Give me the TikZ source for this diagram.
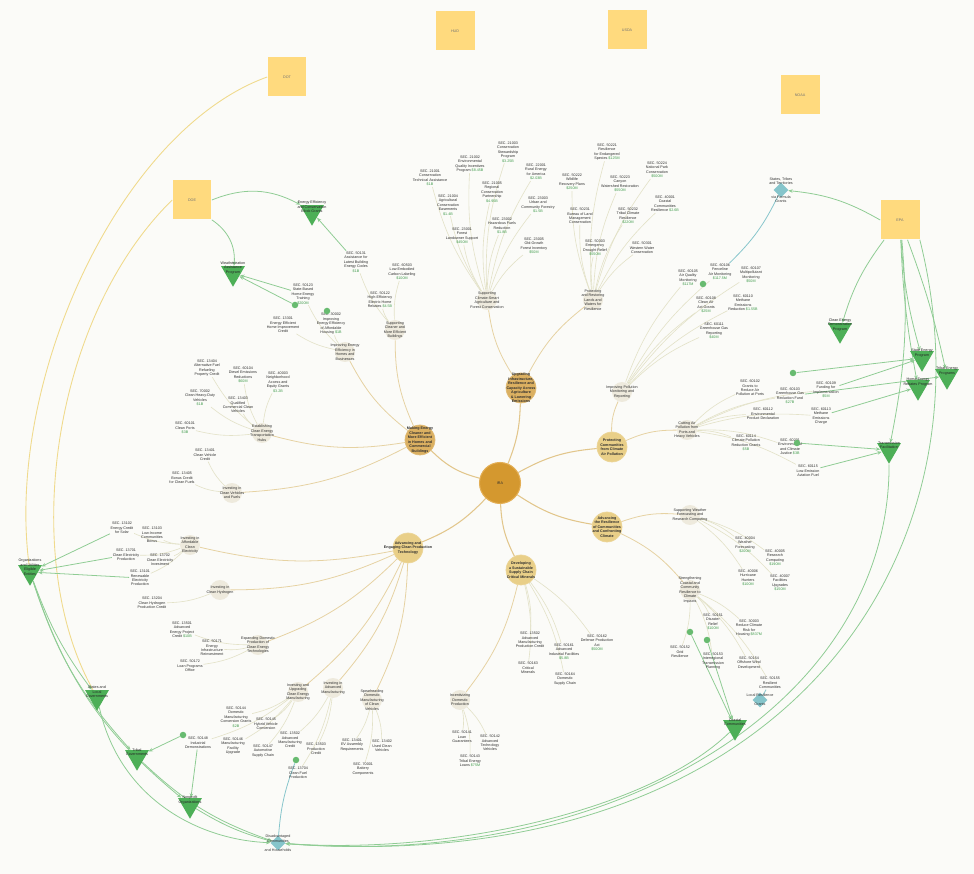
\documentclass[tikz,border=0pt]{standalone}
\usepackage{fontspec}
\setmainfont{Liberation Sans}
\usepackage{xcolor}
\usepackage{tikz}
\usetikzlibrary{shapes.geometric, arrows.meta, backgrounds, positioning}

\definecolor{bgcol}{HTML}{FBFBF8}
\definecolor{hubfill}{HTML}{D4982F}
\definecolor{hubedge}{HTML}{E3AE55}
\definecolor{topicdark}{HTML}{DBB061}
\definecolor{topiclight}{HTML}{E9CF88}
\definecolor{subfill}{HTML}{EEEADD}
\definecolor{sqfill}{HTML}{FFDA7E}
\definecolor{trifill}{HTML}{4DAF57}
\definecolor{dmfill}{HTML}{86C5CB}
\definecolor{greenline}{HTML}{8FCC94}
\definecolor{tanline}{HTML}{E6D2A2}
\definecolor{paleline}{HTML}{E3E2C8}
\definecolor{yarccol}{HTML}{F0DA8C}
\definecolor{leafgreen}{HTML}{3E9A4A}
\definecolor{inkgrey}{HTML}{2E2E2E}

\newcommand{\tinyfont}{\fontsize{2.1}{2.55}\selectfont}
\newcommand{\amt}[1]{\textcolor{leafgreen}{#1}}

\tikzset{
  hubnode/.style={circle, fill=hubfill, draw=hubedge, line width=0.6pt, minimum size=0.82cm, inner sep=0pt, font=\tinyfont, text=inkgrey},
  topic/.style={circle, fill=#1, draw=#1!85!white, line width=0.4pt, minimum size=0.6cm, inner sep=0pt},
  topictext/.style={font={\tinyfont\bfseries}, align=center, text=inkgrey, inner sep=0pt},
  subnode/.style={circle, fill=subfill, minimum size=0.4cm, inner sep=0pt},
  subtext/.style={font=\tinyfont, align=center, text=inkgrey, inner sep=0pt},
  leaf/.style={font=\tinyfont, align=center, text=inkgrey, inner sep=0.3pt},
  gdot/.style={circle, fill=trifill!85, minimum size=0.13cm, inner sep=0pt},
  sqnode/.style={rectangle, fill=sqfill, minimum size=0.78cm, inner sep=0pt, font=\tinyfont, text=black!55},
  trinode/.style={regular polygon, regular polygon sides=3, shape border rotate=180, fill=trifill, minimum size=0.55cm, inner sep=0pt},
  tritext/.style={font=\tinyfont, align=center, text=black!85, yshift=0.1cm},
  dmnode/.style={diamond, fill=dmfill, minimum size=0.3cm, inner sep=0pt},
  dmtext/.style={font=\tinyfont, align=center, text=black!80},
  hubline/.style={draw=tanline!80!hubfill, line width=0.6pt},
  subline/.style={draw=tanline, line width=0.45pt},
  leafline/.style={draw=paleline, line width=0.35pt},
  gline/.style={draw=greenline, line width=0.45pt, -{Stealth[length=2.5pt,width=2pt]}},
  yarc/.style={draw=yarccol, line width=0.5pt},
  tline/.style={draw=dmfill, line width=0.45pt}
}

\begin{document}
\begin{tikzpicture}[x=0.02cm, y=-0.02cm]
\useasboundingbox (0,0) rectangle (974,874);
\begin{scope}[on background layer]
  \fill[bgcol] (0,0) rectangle (974,874);
\end{scope}

% agencies
\foreach \n/\x/\y/\t in {sqa/287/77/DOT, sqb/455/31/HUD, sqc/627/30/USDA, sqd/800/95/NOAA, sqe/192/200/DOE, sqf/900/220/EPA}
  \node[sqnode] (\n) at (\x,\y) {\t};

% hub and topics
\node[hubnode] (ira) at (500,483) {IRA};
\node[topic=topicdark, label={[topictext]center:{Making Energy\\Cleaner and\\More Efficient\\in Homes and\\Commercial\\Buildings}}] (t1) at (420,440) {};
\node[topic=topicdark, label={[topictext]center:{Upgrading\\Infrastructure,\\Resilience and\\Capacity Across\\Agriculture\\\& Lowering\\Emissions}}] (t2) at (521,388) {};
\node[topic=topiclight, label={[topictext]center:{Protecting\\Communities\\from Climate\\Air Pollution}}] (t3) at (612,447) {};
\node[topic=topiclight, label={[topictext]center:{Advancing\\the Resilience\\of Communities\\and Confronting\\Climate}}] (t4) at (607,527) {};
\node[topic=topiclight, label={[topictext]center:{Developing\\a Sustainable\\Supply Chain\\Critical Minerals}}] (t5) at (521,570) {};
\node[topic=topiclight, label={[topictext]center:{Advancing and\\Engaging Clean Production\\Technology}}] (t6) at (408,548) {};

\begin{scope}[on background layer]
  \draw[hubline] (ira) to[bend left=15] (t1);
  \draw[hubline] (ira) to[bend right=10] (t2);
  \draw[hubline] (ira) to[bend left=12] (t3);
  \draw[hubline] (ira) to[bend right=12] (t4);
  \draw[hubline] (ira) to[bend right=12] (t5);
  \draw[hubline] (ira) to[bend left=12] (t6);
\end{scope}

% subtopics
\foreach \n/\p/\x/\y/\t in {
  s1/t1/395/330/{Supporting\\Cleaner and\\More Efficient\\Buildings},
  s2/t1/345/352/{Improving Energy\\Efficiency in\\Homes and\\Businesses},
  s3/t1/262/433/{Establishing\\Clean Energy\\Transportation\\Hubs},
  s4/t1/232/493/{Investing in\\Clean Vehicles\\and Fuels},
  s5/t2/487/300/{Supporting\\Climate-Smart\\Agriculture and\\Forest Conservation},
  s6/t2/593/300/{Protecting\\and Restoring\\Lands and\\Waters for\\Resilience},
  s7/t3/622/392/{Improving Pollution\\Monitoring and\\Reporting},
  s8/t3/687/430/{Cutting Air\\Pollution from\\Ports and\\Heavy Vehicles},
  s9/t4/690/515/{Supporting Weather\\Forecasting and\\Research Computing},
  s10/t4/690/590/{Strengthening\\Coastal and\\Community\\Resilience to\\Climate\\Impacts},
  s11/t5/460/700/{Incentivizing\\Domestic\\Production},
  s12/t6/190/545/{Investing in\\Affordable\\Clean\\Electricity},
  s13/t6/220/590/{Investing in\\Clean Hydrogen},
  s14/t6/258/645/{Expanding Domestic\\Production of\\Clean Energy\\Technologies},
  s15/t6/298/692/{Investing and\\Upgrading\\Clean Energy\\Manufacturing},
  s16/t6/333/688/{Investing in\\Advanced\\Manufacturing},
  s17/t6/372/700/{Spearheading\\Domestic\\Manufacturing\\of Clean\\Vehicles}} {
  \node[subnode, label={[subtext]center:{\t}}] (\n) at (\x,\y) {};
  \begin{scope}[on background layer]
    \draw[subline] (\p) to[bend left=12] (\n);
  \end{scope}
}

% programs
\foreach \n/\p/\x/\y/\t in {
  la/s1/356/262/{SEC. 50131\\Assistance for\\Latest Building\\Energy Codes\\\amt{\$1B}},
  lb/s1/402/272/{SEC. 60503\\Low-Embodied\\Carbon Labeling\\\amt{\$100M}},
  lc/s1/380/300/{SEC. 50122\\High-Efficiency\\Electric Home\\Rebates \amt{\$4.5B}},
  ld/s2/303/294/{SEC. 50123\\State-Based\\Home Energy\\Training\\\amt{\$200M}},
  le/s2/331/324/{SEC. 30002\\Improving\\Energy Efficiency\\of Affordable\\Housing \amt{\$1B}},
  lf/s2/283/325/{SEC. 13301\\Energy Efficient\\Home Improvement\\Credit},
  lg/s3/207/368/{SEC. 13404\\Alternative Fuel\\Refueling\\Property Credit},
  lh/s3/243/375/{SEC. 60104\\Diesel Emissions\\Reductions\\\amt{\$60M}},
  li/s3/278/382/{SEC. 40003\\Neighborhood\\Access and\\Equity Grants\\\amt{\$3.2B}},
  lj/s3/200/398/{SEC. 70002\\Clean Heavy-Duty\\Vehicles\\\amt{\$1B}},
  lk/s3/238/405/{SEC. 13403\\Qualified\\Commercial Clean\\Vehicles},
  ll/s3/185/428/{SEC. 60101\\Clean Ports\\\amt{\$3B}},
  lm/s4/205/455/{SEC. 13401\\Clean Vehicle\\Credit},
  ln/s4/182/478/{SEC. 13405\\Bonus Credit\\for Clean Fuels},
  lo/s5/430/178/{SEC. 21001\\Conservation\\Technical Assistance\\\amt{\$1B}},
  lp/s5/470/164/{SEC. 21002\\Environmental\\Quality Incentives\\Program \amt{\$8.45B}},
  lq/s5/508/152/{SEC. 21003\\Conservation\\Stewardship\\Program\\\amt{\$3.25B}},
  lr/s5/448/205/{SEC. 21004\\Agricultural\\Conservation\\Easements\\\amt{\$1.4B}},
  ls/s5/492/192/{SEC. 21005\\Regional\\Conservation\\Partnership\\\amt{\$4.95B}},
  lt/s5/536/172/{SEC. 22001\\Rural Energy\\for America\\\amt{\$2.03B}},
  lu/s5/462/236/{SEC. 23001\\Forest\\Landowner Support\\\amt{\$450M}},
  lv/s5/502/226/{SEC. 23002\\Hazardous Fuels\\Reduction\\\amt{\$1.8B}},
  lw/s5/538/205/{SEC. 23003\\Urban and\\Community Forestry\\\amt{\$1.5B}},
  lx/s5/534/246/{SEC. 23005\\Old-Growth\\Forest Inventory\\\amt{\$50M}},
  ly/s6/607/152/{SEC. 50221\\Resilience\\for Endangered\\Species \amt{\$125M}},
  lz/s6/572/182/{SEC. 50222\\Wildlife\\Recovery Plans\\\amt{\$250M}},
  ma/s6/620/184/{SEC. 50223\\Canyon\\Watershed Restoration\\\amt{\$550M}},
  mb/s6/657/170/{SEC. 50224\\National Park\\Conservation\\\amt{\$500M}},
  mc/s6/580/216/{SEC. 50231\\Bureau of Land\\Management\\Conservation},
  md/s6/628/216/{SEC. 50232\\Tribal Climate\\Resilience\\\amt{\$220M}},
  me/s6/665/204/{SEC. 40001\\Coastal\\Communities\\Resilience \amt{\$2.6B}},
  mf/s6/595/248/{SEC. 50303\\Emergency\\Drought Relief\\\amt{\$550M}},
  mg/s6/642/248/{SEC. 50301\\Western Water\\Conservation},
  mh/s7/688/278/{SEC. 60105\\Air Quality\\Monitoring\\\amt{\$117M}},
  mi/s7/720/272/{SEC. 60106\\Fenceline\\Air Monitoring\\\amt{\$117.5M}},
  mj/s7/751/275/{SEC. 60107\\Multipollutant\\Monitoring\\\amt{\$50M}},
  mk/s7/706/305/{SEC. 60108\\Clean Air\\Act Grants\\\amt{\$25M}},
  ml/s7/743/303/{SEC. 60110\\Methane\\Emissions\\Reduction \amt{\$1.55B}},
  mm/s7/714/331/{SEC. 60111\\Greenhouse Gas\\Reporting\\\amt{\$40M}},
  mn/s8/750/388/{SEC. 60102\\Grants to\\Reduce Air\\Pollution at Ports},
  mo/s8/790/396/{SEC. 60103\\Greenhouse Gas\\Reduction Fund\\\amt{\$27B}},
  mp/s8/826/390/{SEC. 60109\\Funding for\\Implementation\\\amt{\$5M}},
  mq/s8/763/414/{SEC. 60112\\Environmental\\Product Declaration},
  mr/s8/821/416/{SEC. 60113\\Methane\\Emissions\\Charge},
  ms/s8/746/443/{SEC. 60114\\Climate Pollution\\Reduction Grants\\\amt{\$5B}},
  mt/s8/790/447/{SEC. 60201\\Environmental\\and Climate\\Justice \amt{\$3B}},
  mu/s8/808/471/{SEC. 60115\\Low-Emission\\Aviation Fuel},
  mv/s9/745/545/{SEC. 40004\\Weather\\Forecasting\\\amt{\$200M}},
  mw/s9/775/558/{SEC. 40005\\Research\\Computing\\\amt{\$190M}},
  mx/s9/748/578/{SEC. 40006\\Hurricane\\Hunters\\\amt{\$100M}},
  my/s9/780/583/{SEC. 40007\\Facilities\\Upgrades\\\amt{\$150M}},
  mz/s10/713/622/{SEC. 50151\\Disaster\\Relief\\\amt{\$100M}},
  na/s10/749/628/{SEC. 30003\\Reduce Climate\\Risk for\\Housing \amt{\$837M}},
  nb/s10/680/652/{SEC. 50152\\Grid\\Resilience},
  nc/s10/713/661/{SEC. 50153\\Interregional\\Transmission\\Planning},
  nd/s10/749/663/{SEC. 50154\\Offshore Wind\\Development},
  ne/s10/770/683/{SEC. 50155\\Resilient\\Communities},
  nf/t5/530/640/{SEC. 13502\\Advanced\\Manufacturing\\Production Credit},
  ng/t5/564/652/{SEC. 50161\\Advanced\\Industrial Facilities\\\amt{\$5.8B}},
  nh/t5/597/643/{SEC. 50162\\Defense Production\\Act\\\amt{\$500M}},
  ni/t5/528/668/{SEC. 50163\\Critical\\Minerals},
  nj/t5/565/679/{SEC. 50164\\Domestic\\Supply Chain},
  nk/s11/462/737/{SEC. 50141\\Loan\\Guarantees},
  nl/s11/490/743/{SEC. 50142\\Advanced\\Technology\\Vehicles},
  nm/s11/470/761/{SEC. 50143\\Tribal Energy\\Loans \amt{\$75M}},
  nn/s12/122/528/{SEC. 13102\\Energy Credit\\for Solar},
  no/s12/152/535/{SEC. 13103\\Low-Income\\Communities\\Bonus},
  np/s12/126/555/{SEC. 13701\\Clean Electricity\\Production},
  nq/s12/160/560/{SEC. 13702\\Clean Electricity\\Investment},
  nr/s12/140/578/{SEC. 13101\\Renewable\\Electricity\\Production},
  ns/s13/152/603/{SEC. 13204\\Clean Hydrogen\\Production Credit},
  nt/s14/182/630/{SEC. 13501\\Advanced\\Energy Project\\Credit \amt{\$10B}},
  nu/s14/212/648/{SEC. 50171\\Energy\\Infrastructure\\Reinvestment},
  nv/s14/190/666/{SEC. 50172\\Loan Programs\\Office},
  nw/s15/236/717/{SEC. 50144\\Domestic\\Manufacturing\\Conversion Grants\\\amt{\$2B}},
  nx/s15/266/724/{SEC. 50145\\Hybrid Vehicle\\Conversion},
  ny/s15/233/746/{SEC. 50146\\Manufacturing\\Facility\\Upgrade},
  nz/s15/263/751/{SEC. 50147\\Automotive\\Supply Chain},
  oa/s15/198/743/{SEC. 50148\\Industrial\\Demonstrations},
  ob/s16/290/740/{SEC. 13502\\Advanced\\Manufacturing\\Credit},
  oc/s16/316/749/{SEC. 13503\\Production\\Credit},
  od/s16/298/773/{SEC. 13704\\Clean Fuel\\Production},
  oe/s17/352/745/{SEC. 13401\\EV Assembly\\Requirements},
  of/s17/382/746/{SEC. 13402\\Used Clean\\Vehicles},
  og/s17/363/769/{SEC. 70001\\Battery\\Components}} {
  \node[leaf] (\n) at (\x,\y) {\t};
  \begin{scope}[on background layer]
    \draw[leafline] (\p) to[bend left=10] (\n);
  \end{scope}
}

% funded dots
\foreach \n/\x/\y in {gd1/295/305, gd2/327/311, gd3/703/284, gd4/793/373, gd5/797/443, gd6/690/632, gd7/707/640, gd8/183/735, gd9/296/760}
  \node[gdot] (\n) at (\x,\y) {};

% recipients
\foreach \n/\x/\y/\t in {
  g1/312/212/{Energy Efficiency\\and Conservation\\Block Grants},
  g2/233/273/{Weatherization\\Assistance\\Program},
  g3/840/330/{Clean Energy\\Demonstration\\Program},
  g4/922/358/{State Energy\\Program},
  g5/918/387/{Home Energy\\Rebates Program},
  g6/947/376/{Tribal Energy\\Programs},
  g7/889/450/{Transmission\\Facilitation},
  g8/30/572/{Organizations\\and Utilities\\Eligible\\Entities},
  g9/97/697/{States and\\Local\\Governments},
  g10/137/757/{Tribal\\Governments},
  g11/190/805/{Nonprofit\\Organizations},
  g12/735/727/{Coastal\\Communities}}
  \node[trinode, label={[tritext]center:{\t}}] (\n) at (\x,\y) {};

\foreach \n/\x/\y/\t in {
  dm1/781/190/{States, Tribes\\and Territories\\\\\\via Formula\\Grants},
  dm2/278/843/{Disadvantaged\\Communities\\\\and Households},
  dm3/760/700/{Local Resilience\\\\Grants}}
  \node[dmnode, label={[dmtext]center:{\t}}] (\n) at (\x,\y) {};

\begin{scope}[on background layer]
  % left side
  \draw[yarc] (sqa.west) .. controls (120,130) and (5,380) .. (g8);
  \draw[yarc] (sqe.west) .. controls (50,320) and (20,560) .. (g9);
  \draw[gline] (sqe.east) to[bend left=25] (g1);
  \draw[gline] (sqe.south east) to[bend left=30] (g2);
  \draw[gline] (la) -- (g1);
  \draw[gline] (ld) -- (g2);
  \draw[gline] (gd1) -- (g2);
  \foreach \s in {nn, np, nr}
    \draw[gline] (\s) -- (g8);
  \draw[gline] (g8) to[bend right=8] (g9);
  \draw[gline] (g8) to[bend right=12] (g10);
  \draw[gline] (g8) to[bend right=16] (g11);
  \draw[gline] (gd8) -- (g10);
  \draw[gline] (oa) -- (g11);
  % bottom
  \draw[gline] (g9) .. controls (120,800) and (200,840) .. (dm2);
  \draw[gline] (g10) to[bend right=12] (dm2);
  \draw[gline] (g11) to[bend right=8] (dm2);
  \draw[tline] (dm2) to[bend left=8] (gd9);
  % right side
  \foreach \g/\b in {g3/10, g4/6, g5/4, g6/-4, g7/-8}
    \draw[gline] (sqf) to[bend right=\b] (\g);
  \draw[gline] (sqf.west) to[bend right=12] (dm1);
  \draw[tline] (dm1) to[bend left=10] (mi);
  \draw[gline] (gd4) -- (g4);
  \draw[gline] (mp) -- (g4);
  \draw[gline] (mr) -- (g5);
  \draw[gline] (mo) -- (g6);
  \draw[gline] (gd5) -- (g7);
  \draw[gline] (mu) -- (g7);
  \draw[gline] (gd6) -- (g12);
  \draw[gline] (gd7) -- (g12);
  \draw[tline] (ne) -- (dm3);
  \draw[gline] (sqf.south east) .. controls (1000,560) and (780,880) .. (dm2);
  \draw[gline] (g7) .. controls (890,700) and (620,870) .. (dm2);
  \draw[gline] (g12) .. controls (650,810) and (450,855) .. (dm2);
\end{scope}
\end{tikzpicture}
\end{document}
